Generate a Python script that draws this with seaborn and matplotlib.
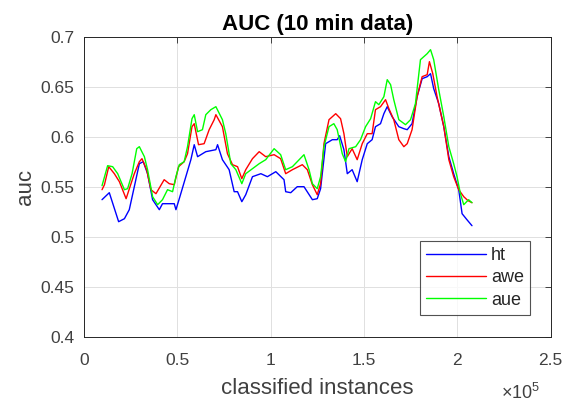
import numpy as np
import pandas as pd
import matplotlib
matplotlib.use("Agg")
import matplotlib.pyplot as plt
import seaborn as sns

# classified instances (in units of 1e5) and auc per model
ht_x = [0.097, 0.136, 0.186, 0.217, 0.243, 0.270, 0.297, 0.318, 0.341, 0.368, 0.404, 0.421, 0.484, 0.493,
        0.511, 0.546, 0.573, 0.591, 0.609, 0.653, 0.707, 0.716, 0.742, 0.778, 0.805, 0.823, 0.846, 0.867,
        0.903, 0.948, 0.983, 1.028, 1.072, 1.081, 1.108, 1.143, 1.179, 1.224, 1.250, 1.268, 1.295, 1.331,
        1.357, 1.370, 1.393, 1.411, 1.437, 1.464, 1.491, 1.518, 1.544, 1.562, 1.589, 1.607, 1.625, 1.651,
        1.687, 1.714, 1.732, 1.758, 1.785, 1.812, 1.839, 1.857, 1.874, 1.901, 1.928, 1.955, 1.981, 2.008,
        2.026, 2.052, 2.079]
ht_y = [0.537, 0.544, 0.515, 0.518, 0.527, 0.550, 0.573, 0.575, 0.563, 0.537, 0.527, 0.533, 0.533, 0.527,
        0.538, 0.560, 0.577, 0.592, 0.580, 0.585, 0.587, 0.592, 0.577, 0.567, 0.545, 0.545, 0.535, 0.542,
        0.560, 0.563, 0.560, 0.565, 0.557, 0.545, 0.544, 0.550, 0.550, 0.537, 0.538, 0.548, 0.593, 0.597,
        0.597, 0.601, 0.587, 0.563, 0.567, 0.555, 0.577, 0.593, 0.597, 0.610, 0.613, 0.623, 0.630, 0.620,
        0.610, 0.608, 0.607, 0.613, 0.640, 0.658, 0.660, 0.663, 0.648, 0.633, 0.610, 0.580, 0.563, 0.547,
        0.523, 0.517, 0.511]

awe_x = [0.097, 0.110, 0.133, 0.163, 0.190, 0.207, 0.226, 0.247, 0.270, 0.297, 0.311, 0.336, 0.359, 0.386,
         0.430, 0.457, 0.484, 0.507, 0.537, 0.555, 0.579, 0.591, 0.614, 0.644, 0.671, 0.698, 0.707, 0.742,
         0.769, 0.796, 0.823, 0.846, 0.867, 0.903, 0.939, 0.974, 1.019, 1.054, 1.081, 1.117, 1.170, 1.197,
         1.224, 1.250, 1.268, 1.286, 1.313, 1.349, 1.375, 1.393, 1.411, 1.437, 1.464, 1.491, 1.518, 1.544,
         1.562, 1.589, 1.616, 1.634, 1.660, 1.687, 1.714, 1.732, 1.758, 1.785, 1.812, 1.839, 1.851, 1.869,
         1.892, 1.928, 1.955, 1.981, 2.008, 2.035, 2.058, 2.079]
awe_y = [0.547, 0.552, 0.570, 0.563, 0.555, 0.547, 0.538, 0.550, 0.563, 0.575, 0.578, 0.567, 0.547, 0.543,
         0.557, 0.553, 0.552, 0.570, 0.575, 0.583, 0.610, 0.613, 0.592, 0.593, 0.607, 0.617, 0.622, 0.610,
         0.583, 0.572, 0.570, 0.558, 0.567, 0.578, 0.585, 0.580, 0.582, 0.578, 0.563, 0.567, 0.572, 0.567,
         0.552, 0.542, 0.553, 0.593, 0.617, 0.623, 0.618, 0.603, 0.580, 0.588, 0.577, 0.593, 0.603, 0.603,
         0.627, 0.630, 0.637, 0.628, 0.617, 0.597, 0.590, 0.593, 0.607, 0.640, 0.660, 0.662, 0.675, 0.663,
         0.640, 0.610, 0.577, 0.560, 0.547, 0.540, 0.536, 0.534]

aue_x = [0.097, 0.127, 0.154, 0.181, 0.217, 0.234, 0.258, 0.283, 0.297, 0.324, 0.341, 0.368, 0.395, 0.421,
         0.448, 0.475, 0.493, 0.511, 0.537, 0.555, 0.579, 0.591, 0.609, 0.635, 0.653, 0.680, 0.707, 0.742,
         0.760, 0.787, 0.814, 0.846, 0.867, 0.903, 0.939, 0.974, 1.019, 1.054, 1.081, 1.117, 1.179, 1.206,
         1.224, 1.250, 1.268, 1.286, 1.313, 1.339, 1.357, 1.384, 1.402, 1.420, 1.456, 1.482, 1.509, 1.536,
         1.562, 1.580, 1.607, 1.625, 1.643, 1.660, 1.687, 1.723, 1.750, 1.776, 1.803, 1.839, 1.857, 1.874,
         1.901, 1.928, 1.955, 1.981, 1.999, 2.017, 2.035, 2.061, 2.079]
aue_y = [0.551, 0.571, 0.570, 0.563, 0.547, 0.548, 0.563, 0.588, 0.590, 0.580, 0.567, 0.540, 0.532, 0.537,
         0.547, 0.545, 0.560, 0.572, 0.575, 0.590, 0.618, 0.622, 0.605, 0.607, 0.622, 0.627, 0.630, 0.617,
         0.603, 0.573, 0.567, 0.553, 0.563, 0.568, 0.573, 0.577, 0.588, 0.582, 0.567, 0.570, 0.582, 0.567,
         0.553, 0.548, 0.560, 0.590, 0.610, 0.613, 0.607, 0.583, 0.575, 0.588, 0.590, 0.597, 0.610, 0.618,
         0.635, 0.632, 0.640, 0.657, 0.652, 0.637, 0.617, 0.612, 0.617, 0.633, 0.677, 0.683, 0.687, 0.677,
         0.647, 0.620, 0.590, 0.573, 0.560, 0.543, 0.532, 0.537, 0.534]

models = ["ht", "awe", "aue"]
colors = {"ht": "#0000ff", "awe": "#ff0000", "aue": "#00ff00"}
x_ticklabels = ["0", "0.5", "1", "1.5", "2", "2.5"]
y_ticklabels = ["0.4", "0.45", "0.5", "0.55", "0.6", "0.65", "0.7"]

frames = []
for name, xs, ys in [("ht", ht_x, ht_y), ("awe", awe_x, awe_y), ("aue", aue_x, aue_y)]:
    frames.append(pd.DataFrame({"instances": np.array(xs) * 1e5, "auc": ys, "model": name}))
df = pd.concat(frames, ignore_index=True)

sns.set_style("white")
plt.rcParams["font.family"] = ["Liberation Sans", "DejaVu Sans"]
plt.rcParams["mathtext.fontset"] = "custom"
plt.rcParams["mathtext.rm"] = "Liberation Sans"
plt.rcParams["mathtext.it"] = "Liberation Sans"

fig = plt.figure(figsize=(5.67, 4.03), dpi=100)
ax = fig.add_axes([0.148, 0.1645, 0.823, 0.7445])

sns.lineplot(data=df, x="instances", y="auc", hue="model", hue_order=models,
             palette=colors, estimator=None, sort=False, linewidth=1.0, ax=ax)

ax.set_xlim(0, 2.5e5)
ax.set_ylim(0.4, 0.7)
ax.set_xticks(np.arange(0, 2.51e5, 0.5e5))
ax.set_yticks(np.arange(0.4, 0.701, 0.05))
ax.set_xticklabels(x_ticklabels)
ax.set_yticklabels(y_ticklabels)
ax.text(0.977, -0.222, r"$\times\mathregular{10^5}$", transform=ax.transAxes,
        ha="right", va="bottom", fontsize=13, color="#404040")

ax.grid(True, color="#e0e0e0", linewidth=0.7)
ax.tick_params(direction="in", top=True, right=True, length=4, width=0.7,
               labelsize=12.5, colors="#404040")
ax.tick_params(axis="x", pad=12)
ax.tick_params(axis="y", pad=7)
for s in ax.spines.values():
    s.set_color("#262626")
    s.set_linewidth(0.7)

ax.set_title("AUC (10 min data)", fontsize=16, fontweight="bold", pad=5, color="black")
ax.set_xlabel("classified instances", fontsize=16, color="#404040", labelpad=7)
ax.set_ylabel("auc", fontsize=16, color="#404040", labelpad=3)

leg = ax.legend(loc="lower right", bbox_to_anchor=(0.957, 0.072), fontsize=13,
                handlelength=3.3, frameon=True, fancybox=False, borderpad=0.35,
                labelspacing=0.3, handletextpad=0.3, borderaxespad=0)
leg.get_frame().set_edgecolor("#262626")
leg.get_frame().set_linewidth(0.8)

fig.savefig("out.png", dpi=100)
